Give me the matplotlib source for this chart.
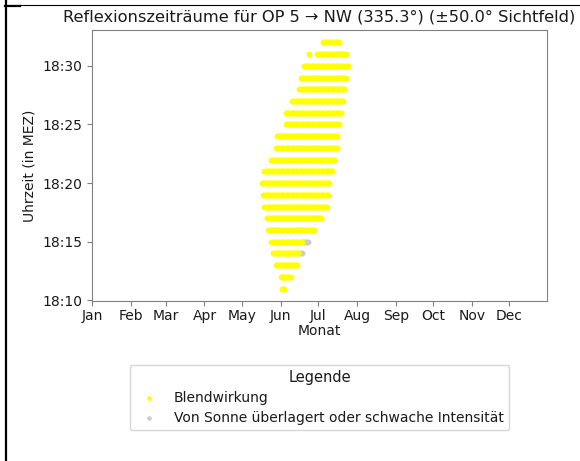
import datetime as dt
import numpy as np
import matplotlib
matplotlib.use("Agg")
import matplotlib.pyplot as plt
import matplotlib.dates as mdates
from matplotlib.lines import Line2D

YEAR = 2023

# Minute of day (after 18:00) for each row
minutes = [11, 12, 13, 14, 15, 16, 17, 18, 19, 20, 21, 22, 23, 24, 25, 26, 27, 28, 29, 30, 31, 32]
# Day-of-year (0 = Jan 1) ranges with glare ("Blendwirkung")
glare_start = [152, 151, 147, 145, 143, 141, 140, 138, 137, 136, 138, 143, 147, 148, 155, 155, 160, 166, 167, 170, 180, 185]
glare_end   = [154, 159, 164, 165, 168, 178, 183, 188, 189, 190, 192, 194, 196, 196, 198, 199, 201, 202, 203, 205, 203, 198]
# Extra isolated glare points (minute, day)
extra_glare_minute = [31]
extra_glare_day = [174]
# Ranges overlaid by sun / weak intensity (minute, start day, end day)
weak_minutes = [14, 15]
weak_start = [166, 169]
weak_end = [168, 173]

month_labels = ["Jan", "Feb", "Mar", "Apr", "May", "Jun", "Jul", "Aug", "Sep", "Oct", "Nov", "Dec"]

base = dt.datetime(YEAR, 1, 1)

def to_dates(days):
    return [base + dt.timedelta(days=int(d)) for d in days]

def to_time(m):
    return dt.datetime(2000, 1, 1, 18, 0) + dt.timedelta(minutes=int(m))

gx, gy = [], []
for m, s, e in zip(minutes, glare_start, glare_end):
    for d in range(s, e + 1):
        gx.append(d); gy.append(m)
for m, d in zip(extra_glare_minute, extra_glare_day):
    gx.append(d); gy.append(m)
wx, wy = [], []
for m, s, e in zip(weak_minutes, weak_start, weak_end):
    for d in range(s, e + 1):
        wx.append(d); wy.append(m)

fig = plt.figure(figsize=(5.8, 4.61), dpi=100)
ax = fig.add_axes([92/580, 1 - 301/461, (547-92)/580, (301-30)/461])

ax.scatter(to_dates(wx), [to_time(m) for m in wy], s=18, color="#cccccc",
           linewidths=0, label="Von Sonne überlagert oder schwache Intensität", zorder=2)
ax.scatter(to_dates(gx), [to_time(m) for m in gy], s=18, color="#ffff00",
           linewidths=0, label="Blendwirkung", zorder=3)

ax.set_xlim(dt.datetime(YEAR, 1, 1), dt.datetime(YEAR, 12, 31))
ax.set_ylim(dt.datetime(2000, 1, 1, 18, 9, 57), dt.datetime(2000, 1, 1, 18, 33, 3))
ax.set_xticks([dt.datetime(YEAR, i + 1, 1) for i in range(12)])
ax.set_xticklabels(month_labels)
ax.yaxis.set_major_locator(mdates.MinuteLocator(byminute=range(0, 60, 5)))
ax.yaxis.set_major_formatter(mdates.DateFormatter("%H:%M"))

for sp in ax.spines.values():
    sp.set_color("#808080")
ax.tick_params(colors="#808080", labelcolor="#1a1a1a", labelsize=10)
ax.tick_params(axis="x", pad=2)

ax.set_xlabel("Monat", fontsize=10, color="#1a1a1a", labelpad=1)
ax.set_ylabel("Uhrzeit (in MEZ)", fontsize=10, color="#1a1a1a")
ax.set_title("Reflexionszeiträume für OP 5 → NW (335.3°) (±50.0° Sichtfeld)",
             fontsize=11.7, color="#1a1a1a", pad=6)

handles, labels = ax.get_legend_handles_labels()
leg = ax.legend(handles[::-1], labels[::-1], title="Legende", loc="upper center",
                bbox_to_anchor=(0.5, -0.21), fontsize=10, title_fontsize=10.5,
                frameon=True, markerscale=0.8, labelspacing=0.4)
for t in leg.get_texts():
    t.set_color("#1a1a1a")
leg.get_title().set_color("#1a1a1a")

fig.add_artist(Line2D([6/580, 6/580], [0, 1], transform=fig.transFigure, color="black", lw=1.6))
fig.add_artist(Line2D([5/580, 1], [1 - 5.5/461, 1 - 5.5/461], transform=fig.transFigure, color="black", lw=0.8))
fig.add_artist(Line2D([5/580, 20/580], [1 - 6/461, 1 - 6/461], transform=fig.transFigure, color="black", lw=1.6))

fig.savefig("out.png", dpi=100)
